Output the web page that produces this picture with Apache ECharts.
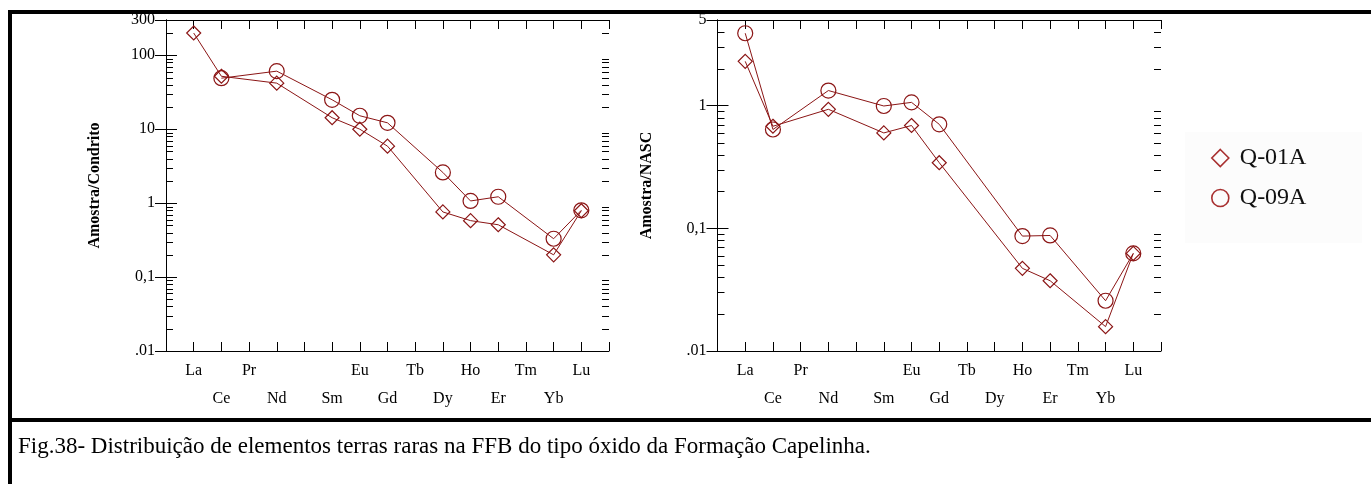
<!DOCTYPE html>
<html>
<head>
<meta charset="utf-8">
<script src="https://cdn.jsdelivr.net/npm/echarts@6/dist/echarts.min.js"></script>
<style>
  html, body { margin: 0; padding: 0; background: #fff; }
  #chart { width: 1371px; height: 484px; }
</style>
</head>
<body>
<div id="chart"></div>
<script>
// Rare earth elements in atomic order (Pm left unlabeled)
const elements = ['La', 'Ce', 'Pr', 'Nd', '', 'Sm', 'Eu', 'Gd', 'Tb', 'Dy', 'Ho', 'Er', 'Tm', 'Yb', 'Lu'];

// Chondrite-normalised values
const condritoQ01A = [200, 52, null, 42, null, 14.3, 10, 5.9, null, 0.76, 0.58, 0.51, null, 0.2, 0.79];
const condritoQ09A = [null, 49, null, 61, null, 25, 15.2, 12.2, null, 2.6, 1.07, 1.22, null, 0.33, 0.8];

// NASC-normalised values
const nascQ01A = [2.3, 0.68, null, 0.935, null, 0.6, 0.69, 0.343, null, null, 0.0472, 0.0374, null, 0.0158, 0.0625];
const nascQ09A = [3.9, 0.64, null, 1.33, null, 0.995, 1.065, 0.705, null, null, 0.0865, 0.0875, null, 0.0257, 0.0625];

// Y axis ranges and tick label text
const condritoRange = [0.01, 300];
const nascRange = [0.01, 5];
const yTickText = { '0.01': '.01', '0.1': '0,1' };

const seriesNames = ['Q-01A', 'Q-09A'];
const caption = 'Fig.38- Distribuição de elementos terras raras na FFB do tipo óxido da Formação Capelinha.';

const RED = '#8b1515';
const SERIF = '"Liberation Serif", "Times New Roman", serif';

// Minor log ticks (2..9 within each decade) inside a range
function minorTicks(range) {
  const out = [];
  for (let e = Math.floor(Math.log10(range[0])); e <= Math.ceil(Math.log10(range[1])); e++) {
    for (let m = 2; m <= 9; m++) {
      const v = Number((m * Math.pow(10, e)).toPrecision(3));
      if (v > range[0] && v < range[1]) out.push(v);
    }
  }
  return out;
}

function toPoints(values) {
  const pts = [];
  values.forEach((v, i) => { if (v != null) pts.push([i + 1, v]); });
  return pts;
}

function xAxes(gridIndex) {
  const base = {
    type: 'value', gridIndex: gridIndex, min: 0, max: elements.length + 1, interval: 1,
    splitLine: { show: false },
    axisLine: { lineStyle: { color: '#000', width: 1 } },
    axisTick: { inside: true, length: 9, lineStyle: { color: '#000' } }
  };
  return [
    Object.assign({}, base, {
      position: 'bottom',
      axisLabel: {
        margin: 6, fontFamily: SERIF, fontSize: 16, color: '#000', lineHeight: 28,
        showMinLabel: true, showMaxLabel: true,
        formatter: function (v) {
          const name = elements[v - 1];
          if (!name) return '';
          return (v % 2 === 1) ? name : '\n' + name;
        }
      }
    }),
    Object.assign({}, base, { position: 'top', axisLabel: { show: false } })
  ];
}

function yAxes(gridIndex, range, name) {
  const base = {
    type: 'log', logBase: 10, gridIndex: gridIndex, min: range[0], max: range[1],
    splitLine: { show: false },
    axisLine: { lineStyle: { color: '#000', width: 1 } },
    axisTick: { inside: true, length: 11, lineStyle: { color: '#000' } }
  };
  return [
    Object.assign({}, base, {
      position: 'left',
      name: name, nameLocation: 'middle', nameGap: 63, nameRotate: 90,
      nameTextStyle: { fontFamily: SERIF, fontSize: 16, fontWeight: 'bold', color: '#000' },
      axisLabel: {
        margin: 11, fontFamily: SERIF, fontSize: 16, color: '#000',
        showMinLabel: true, showMaxLabel: true,
        formatter: function (v) {
          const k = String(Number(v.toPrecision(3)));
          return yTickText[k] || k;
        }
      }
    }),
    Object.assign({}, base, { position: 'right', axisLabel: { show: false } })
  ];
}

// Short inward minor ticks on both vertical frame edges
function minorTickSeries(xIdx, yIdx, range) {
  return {
    type: 'custom', xAxisIndex: xIdx, yAxisIndex: yIdx, silent: true, clip: false, z: 1,
    data: minorTicks(range).map(v => [0, v]),
    renderItem: function (params, api) {
      const v = api.value(1);
      const l = api.coord([0, v]);
      const r = api.coord([elements.length + 1, v]);
      const y = Math.round(l[1]) + 0.5;
      const style = { stroke: '#000', lineWidth: 1 };
      return {
        type: 'group',
        children: [
          { type: 'line', shape: { x1: l[0], y1: y, x2: l[0] + 7, y2: y }, style: style },
          { type: 'line', shape: { x1: r[0], y1: y, x2: r[0] - 7, y2: y }, style: style }
        ]
      };
    }
  };
}

function lineSeries(name, values, xIdx, yIdx, symbol, size) {
  return {
    type: 'line', name: name, xAxisIndex: xIdx, yAxisIndex: yIdx,
    data: toPoints(values),
    symbol: symbol, symbolSize: size, showSymbol: true,
    lineStyle: { color: RED, width: 1 },
    itemStyle: { color: 'rgba(0,0,0,0)', borderColor: RED, borderWidth: 1.2 },
    emphasis: { disabled: true },
    z: 3
  };
}

const chart = echarts.init(document.getElementById('chart'), null, { renderer: 'canvas' });

chart.setOption({
  animation: false,
  backgroundColor: '#fff',
  grid: [
    { left: 166, top: 20, width: 443, height: 331 },
    { left: 717.5, top: 20, width: 443.5, height: 331 }
  ],
  xAxis: xAxes(0).concat(xAxes(1)),
  yAxis: yAxes(0, condritoRange, 'Amostra/Condrito').concat(yAxes(1, nascRange, 'Amostra/NASC')),
  legend: {
    orient: 'vertical', left: 1206, top: 141,
    itemWidth: 17, itemHeight: 17, itemGap: 16,
    selectedMode: false,
    data: [
      { name: seriesNames[0], icon: 'diamond' },
      { name: seriesNames[1], icon: 'circle' }
    ],
    itemStyle: { color: 'rgba(0,0,0,0)', borderColor: '#a83030', borderWidth: 1.6 },
    textStyle: { fontFamily: SERIF, fontSize: 24, color: '#111', padding: [0, 0, 0, 6] }
  },
  graphic: [
    // faint legend panel
    { type: 'rect', shape: { x: 1185, y: 132, width: 177, height: 111 }, style: { fill: '#fcfcfc' }, z: -10, silent: true },
    // figure frame
    { type: 'rect', shape: { x: 8, y: 10, width: 1363, height: 4 }, style: { fill: '#000' }, silent: true },
    { type: 'rect', shape: { x: 8, y: 10, width: 4, height: 474 }, style: { fill: '#000' }, silent: true },
    { type: 'rect', shape: { x: 8, y: 418, width: 1363, height: 4 }, style: { fill: '#000' }, silent: true },
    // caption
    { type: 'text', left: 18, top: 435, silent: true,
      style: { text: caption, fontFamily: SERIF, fontSize: 23, fill: '#000' } }
  ],
  series: [
    minorTickSeries(0, 0, condritoRange),
    minorTickSeries(2, 2, nascRange),
    lineSeries(seriesNames[0], condritoQ01A, 0, 0, 'diamond', 14),
    lineSeries(seriesNames[1], condritoQ09A, 0, 0, 'circle', 15),
    lineSeries(seriesNames[0], nascQ01A, 2, 2, 'diamond', 14),
    lineSeries(seriesNames[1], nascQ09A, 2, 2, 'circle', 15)
  ]
});
</script>
</body>
</html>
